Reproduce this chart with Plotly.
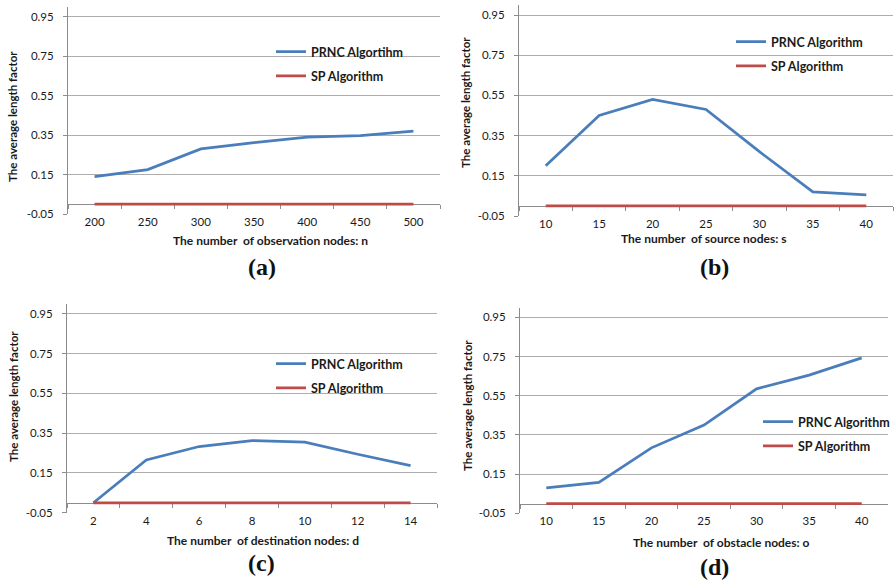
import plotly.graph_objects as go

# ---------------- data ----------------
obs_nodes = ["200", "250", "300", "350", "400", "450", "500"]
prnc_a = [0.14, 0.175, 0.28, 0.312, 0.34, 0.348, 0.37]
sp_a = [0, 0, 0, 0, 0, 0, 0]

src_nodes = ["10", "15", "20", "25", "30", "35", "40"]
prnc_b = [0.20, 0.45, 0.53, 0.48, 0.27, 0.07, 0.055]
sp_b = [0, 0, 0, 0, 0, 0, 0]

dst_nodes = ["2", "4", "6", "8", "10", "12", "14"]
prnc_c = [0.0, 0.215, 0.283, 0.313, 0.305, 0.244, 0.187]
sp_c = [0, 0, 0, 0, 0, 0, 0]

obst_nodes = ["10", "15", "20", "25", "30", "35", "40"]
prnc_d = [0.08, 0.108, 0.284, 0.40, 0.585, 0.655, 0.743]
sp_d = [0, 0, 0, 0, 0, 0, 0]

y_ticks = [-0.05, 0.15, 0.35, 0.55, 0.75, 0.95]
y_ticktext = ["-0.05", "0.15", "0.35", "0.55", "0.75", "0.95"]

W, H = 895, 585
BLUE = "#4A7EBB"
RED = "#BE4B48"
GRID = "#ADADAD"
AXIS = "#8C8C8C"
FONT = "Lato, 'Liberation Sans', sans-serif"
YMIN, YMAX = -0.05, 1.0

panels = [
    dict(cats=obs_nodes, prnc=prnc_a, sp=sp_a, prnc_name="PRNC Algortihm",
         px=(68, 440), py=(7, 214),
         xtitle="The number\u00a0 of observation nodes: n", xt=(270, 240),
         tag="(a)", tg=(262, 267), yt=(13, 117), leg=(282, 52), legright=False),
    dict(cats=src_nodes, prnc=prnc_b, sp=sp_b, prnc_name="PRNC Algorithm",
         px=(519, 893), py=(5, 216),
         xtitle="The number\u00a0 of source nodes: s", xt=(703, 238),
         tag="(b)", tg=(714, 267), yt=(465, 102), leg=(742, 42), legright=False),
    dict(cats=dst_nodes, prnc=prnc_c, sp=sp_c, prnc_name="PRNC Algorithm",
         px=(67, 437), py=(304, 512.7),
         xtitle="The number\u00a0 of destination nodes: d", xt=(263, 540),
         tag="(c)", tg=(261, 563), yt=(13, 397), leg=(282, 364), legright=False),
    dict(cats=obst_nodes, prnc=prnc_d, sp=sp_d, prnc_name="PRNC Algorithm",
         px=(520, 888), py=(307.5, 513.3),
         xtitle="The number\u00a0 of obstacle nodes: o", xt=(721, 542),
         tag="(d)", tg=(714, 567), yt=(467, 405), leg=(780, 422), legright=True),
]

fig = go.Figure()
annotations = []
layout = {}

for i, p in enumerate(panels, start=1):
    sfx = "" if i == 1 else str(i)
    xa, ya = "x" + sfx, "y" + sfx
    legname = "legend" if i == 1 else "legend" + str(i)

    fig.add_trace(go.Scatter(
        x=p["cats"], y=p["prnc"], mode="lines", name=p["prnc_name"],
        line=dict(color=BLUE, width=2.75), xaxis=xa, yaxis=ya,
        legend=legname, legendgroup=f"p{i}"))
    fig.add_trace(go.Scatter(
        x=p["cats"], y=p["sp"], mode="lines", name="SP Algorithm",
        line=dict(color=RED, width=2.75), xaxis=xa, yaxis=ya,
        legend=legname, legendgroup=f"s{i}"))

    y0 = 1 - p["py"][1] / H
    y1 = 1 - p["py"][0] / H
    zero_pos = y0 + (0 - YMIN) / (YMAX - YMIN) * (y1 - y0)

    layout["xaxis" + sfx] = dict(
        domain=[p["px"][0] / W, p["px"][1] / W], anchor="free",
        position=zero_pos, type="category", range=[-0.5, 6.5],
        showline=True, linecolor=AXIS, linewidth=1,
        ticks="outside", tickson="boundaries", ticklen=4, tickcolor=AXIS,
        showgrid=False, zeroline=False, layer="below traces",
        tickfont=dict(family=FONT, size=11.5, color="#1a1a1a"),
        ticklabelstandoff=7,
    )
    layout["yaxis" + sfx] = dict(
        domain=[y0, y1], anchor=xa, range=[YMIN, YMAX],
        tickvals=y_ticks, ticktext=y_ticktext,
        showline=True, linecolor=AXIS, linewidth=1,
        ticks="outside", ticklen=4, tickcolor=AXIS,
        showgrid=False, zeroline=False, layer="below traces",
        minor=dict(tickvals=y_ticks[1:], showgrid=True, gridcolor=GRID,
                   gridwidth=1, ticks=""),
        tickfont=dict(family=FONT, size=11.5, color="#1a1a1a"),
        ticklabelstandoff=7,
    )
    if p["legright"]:
        lx, lxa = 1.0, "right"
    else:
        lx, lxa = (p["leg"][0] - 11) / W, "left"
    layout[legname] = dict(
        x=lx, y=1 - (p["leg"][1] - 15) / H,
        xanchor=lxa, yanchor="top", bgcolor="rgba(0,0,0,0)",
        font=dict(family=FONT, size=12.5, color="#1a1a1a", weight="bold"),
        tracegroupgap=5, itemwidth=30,
    )

    annotations.append(dict(
        text=f"<b>{p['xtitle']}</b>", x=p["xt"][0] / W, y=1 - p["xt"][1] / H,
        xref="paper", yref="paper", showarrow=False, xanchor="center",
        yanchor="middle", font=dict(family=FONT, size=12, color="#1a1a1a")))
    annotations.append(dict(
        text=f"<b>{p['tag']}</b>", x=p["tg"][0] / W, y=1 - p["tg"][1] / H,
        xref="paper", yref="paper", showarrow=False, xanchor="center",
        yanchor="middle",
        font=dict(family="'Liberation Serif', 'Times New Roman', serif",
                  size=24, color="#111")))
    annotations.append(dict(
        text="<b>The average length factor</b>", x=p["yt"][0] / W,
        y=1 - p["yt"][1] / H, xref="paper", yref="paper", showarrow=False,
        xanchor="center", yanchor="middle", textangle=-90,
        font=dict(family=FONT, size=11.5, color="#1a1a1a")))

fig.update_layout(
    width=W, height=H,
    margin=dict(l=0, r=0, t=0, b=0, autoexpand=False),
    paper_bgcolor="white", plot_bgcolor="white",
    annotations=annotations, **layout,
)

fig.write_html("out.html")
